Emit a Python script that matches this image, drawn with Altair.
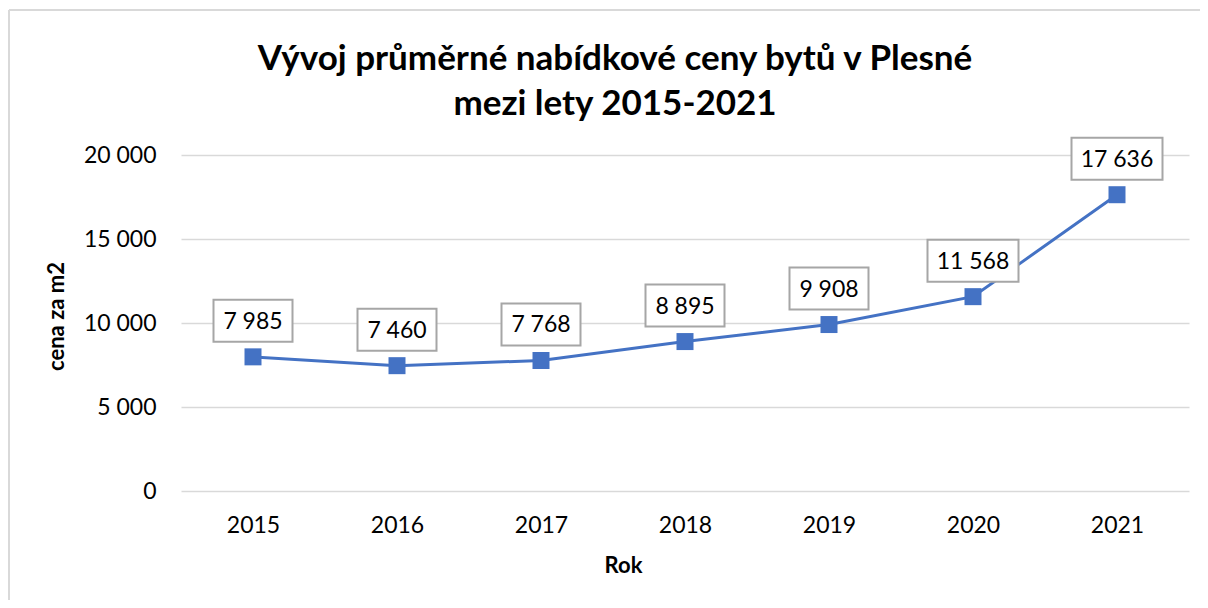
import altair as alt
import pandas as pd

years = ["2015", "2016", "2017", "2018", "2019", "2020", "2021"]
prices = [7985, 7460, 7768, 8895, 9908, 11568, 17636]
labels = ["7 985", "7 460", "7 768", "8 895", "9 908", "11 568", "17 636"]
y_ticks = [0, 5000, 10000, 15000, 20000]

df = pd.DataFrame({"rok": years, "cena": prices, "label": labels})
df["nchar"] = df["label"].str.len()

FONT = "Lato"
BLUE = "#4472c4"
GRID = "#d9d9d9"

x_enc = alt.X(
    "rok:O",
    scale=alt.Scale(type="point", padding=0.5),
    axis=alt.Axis(
        title="Rok", labelAngle=0, domain=False, ticks=False, grid=False,
        labelPadding=23, labelFontSize=23, labelFont=FONT, labelColor="#000000",
        titleFont=FONT, titleFontSize=22, titleFontWeight="bold", titleColor="#000000",
        titleX=442, titleY=81, titleBaseline="alphabetic", titleAlign="center",
    ),
)
y_enc = alt.Y(
    "cena:Q",
    scale=alt.Scale(domain=[0, 20000], nice=False),
    axis=alt.Axis(
        title="cena za m2", values=y_ticks,
        labelExpr="replace(format(datum.value, ','), ',', ' ')",
        grid=True, gridColor=GRID, gridWidth=1.5, domain=False, ticks=False,
        labelPadding=25, labelFontSize=23, labelFont=FONT, labelColor="#000000",
        titleFont=FONT, titleFontSize=22, titleFontWeight="bold", titleColor="#000000",
        titleX=-125, titleY=161, titleBaseline="middle", titleAlign="center",
    ),
)

base = alt.Chart(df).encode(x=x_enc, y=y_enc)

line = base.mark_line(color=BLUE, strokeWidth=3)
markers = base.mark_point(shape="square", filled=True, size=289, color=BLUE, opacity=1)

box5 = base.transform_filter("datum.nchar <= 5").mark_point(
    shape="M-1,-0.532H1V0.532H-1Z", size=79 * 79, filled=True, fill="white",
    stroke="#a6a6a6", strokeWidth=2, opacity=1, fillOpacity=1, yOffset=-36,
)
box6 = base.transform_filter("datum.nchar > 5").mark_point(
    shape="M-1,-0.462H1V0.462H-1Z", size=91 * 91, filled=True, fill="white",
    stroke="#a6a6a6", strokeWidth=2, opacity=1, fillOpacity=1, yOffset=-36,
)
text = base.mark_text(
    font=FONT, fontSize=23, color="#000000", baseline="middle", yOffset=-35,
).encode(text="label:N")

border_left = alt.Chart(df).mark_rule(color=GRID, strokeWidth=2).encode(
    x=alt.value(-172), y=alt.value(-145), y2=alt.value(470)
)
border_top = alt.Chart(df).mark_rule(color=GRID, strokeWidth=2).encode(
    x=alt.value(-172), x2=alt.value(1040), y=alt.value(-145)
)

chart = alt.layer(
    border_left, border_top, line, markers, box5, box6, text
).properties(
    width=1008,
    height=336,
    title=alt.TitleParams(
        text=["Vývoj průměrné nabídkové ceny bytů v Plesné", "mezi lety 2015-2021"],
        font=FONT, fontSize=35, fontWeight="bold", color="#000000",
        anchor="middle", dx=-70, dy=113, lineHeight=45, offset=0,
    ),
    autosize=alt.AutoSizeParams(type="none"),
    padding={"left": 173, "top": 147, "right": 11, "bottom": 109},
    background="white",
).configure_view(stroke=None)

chart.save("out.html", embed_options={"renderer": "svg", "actions": False})
